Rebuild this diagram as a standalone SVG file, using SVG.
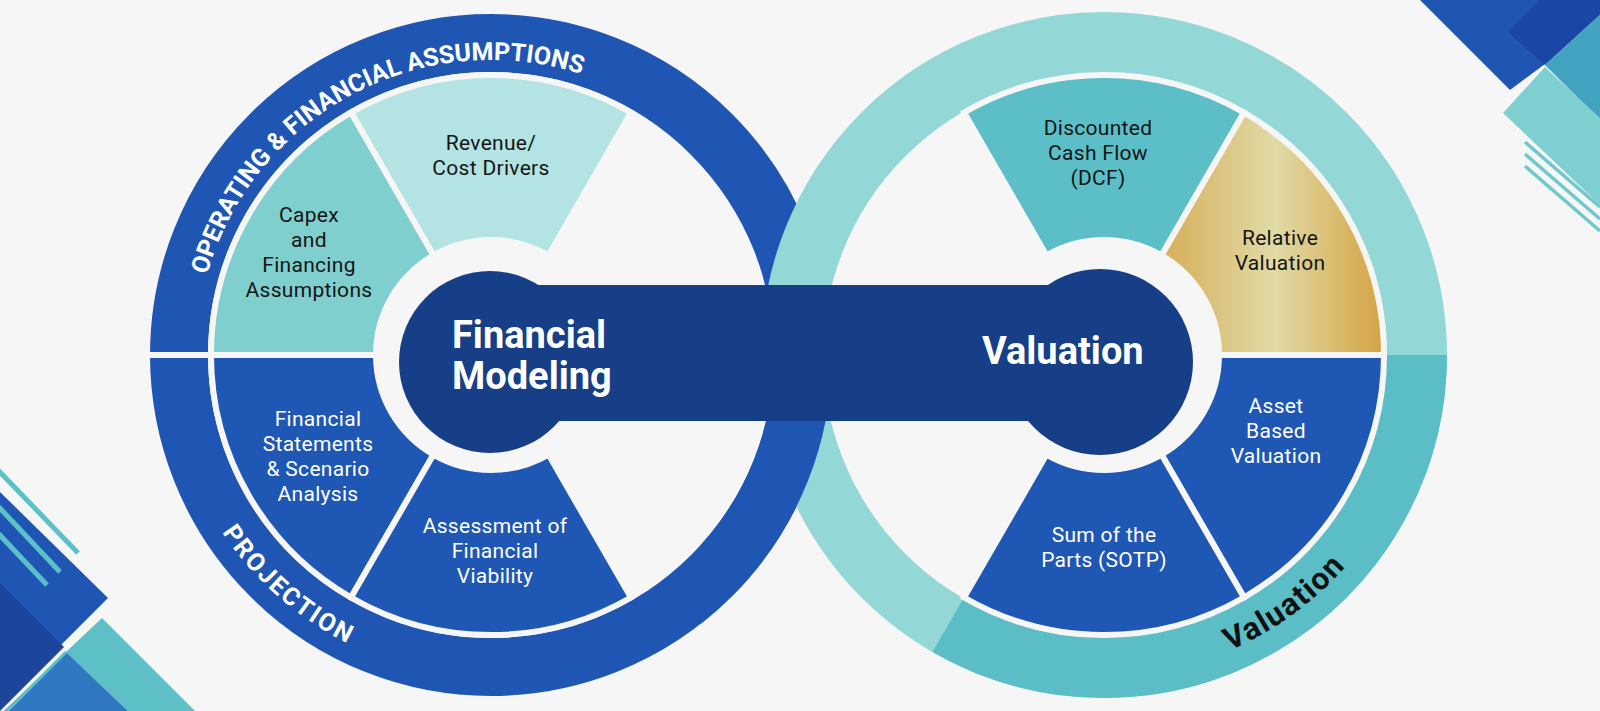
<svg xmlns="http://www.w3.org/2000/svg" width="1600" height="711" viewBox="0 0 1600 711">
<defs>
<style>
.seg-d{font-family:Roboto,"Liberation Sans",sans-serif;font-size:21px;letter-spacing:0.3px;fill:#151515;text-anchor:middle}
.seg-l{font-family:Roboto,"Liberation Sans",sans-serif;font-size:21px;letter-spacing:0.3px;fill:#ffffff;text-anchor:middle}
.seg{stroke:#f6f6f6;stroke-width:6;stroke-linejoin:miter}
.arc-lbl{font-family:Roboto,"Liberation Sans",sans-serif;font-size:25px;font-weight:700;fill:#ffffff}
.hub{fill:#163f87}
.hub-t{font-family:Roboto,"Liberation Sans",sans-serif;font-size:38px;font-weight:700;fill:#ffffff}
.deco-line{stroke:#5cc0c8;stroke-width:5;stroke-linecap:butt}
.deco-thin{stroke:#6fc8ca;stroke-width:3.5;stroke-linecap:butt}
</style>
<linearGradient id="gold" gradientUnits="userSpaceOnUse" x1="1140" y1="0" x2="1385" y2="0">
<stop offset="0" stop-color="#d4a54a"/><stop offset="0.55" stop-color="#e0dba6"/><stop offset="1" stop-color="#d5a241"/>
</linearGradient>
<clipPath id="lowerCross"><rect x="700" y="355" width="220" height="356"/></clipPath>
<path id="p-oper" d="M196,355 A295,295 0 0 1 638.5,99.5"/>
<path id="p-proj" d="M173.9,410.9 A322,322 0 0 0 491,677"/>
<path id="p-val" d="M1104,676 A321,321 0 0 0 1405.6,464.8"/>
</defs>

<rect x="0" y="0" width="1600" height="711" fill="#f6f6f6"/>

<g id="decor-bottom-left">
<line class="deco-line" x1="-4" y1="468" x2="78" y2="553"/>
<polygon points="0,492 108,598 0,706" fill="#1f56b3"/>
<polygon points="0,583 64,647 0,711" fill="#1b469c"/>
<line class="deco-line" x1="-4" y1="504" x2="60" y2="572"/>
<line class="deco-line" x1="-4" y1="531" x2="47" y2="585"/>
<polygon points="102,618 195,711 128,711 66,652" fill="#5cc0c6"/>
<polygon points="66,652 128,711 4,711" fill="#3079c2"/>
<line x1="66" y1="652" x2="4" y2="714" stroke="#5cc0c8" stroke-width="3"/>
</g>

<g id="decor-top-right">
<polygon points="1420,0 1565,0 1545,64 1510,90" fill="#1f56b3"/>
<polygon points="1508,32 1545,65 1600,15 1600,0 1540,0" fill="#1a47a6"/>
<polygon points="1545,65 1600,15 1600,120" fill="#42a3c0"/>
<polygon points="1503,113 1545,67 1600,118 1600,205" fill="#7ecfcf"/>
<line class="deco-thin" x1="1525" y1="142" x2="1600" y2="207"/>
<line class="deco-thin" x1="1525" y1="154" x2="1600" y2="219"/>
<line class="deco-thin" x1="1525" y1="166" x2="1600" y2="231"/>
</g>

<g id="ring-left-band">
<circle cx="491" cy="355" r="312" fill="none" stroke="#1f56b4" stroke-width="58"/>
<line x1="145" y1="355" x2="216" y2="355" stroke="#f6f6f6" stroke-width="6"/>
</g>

<g id="ring-right-band">
<circle cx="1104" cy="355" r="312" fill="none" stroke="#93d7d7" stroke-width="62"/>
<path d="M948,625.2 A312,312 0 0 0 1416,355" fill="none" stroke="#5bbec6" stroke-width="62"/>
</g>

<g id="ring-left-band-over" clip-path="url(#lowerCross)">
<circle cx="491" cy="355" r="312" fill="none" stroke="#1f56b4" stroke-width="58"/>
</g>

<g id="label-operating">
<text class="arc-lbl"><textPath href="#p-oper" startOffset="51.5%" text-anchor="middle">OPERATING &amp; FINANCIAL ASSUMPTIONS</textPath></text>
</g>
<g id="label-projection">
<text class="arc-lbl" letter-spacing="2"><textPath href="#p-proj" startOffset="48.25%" text-anchor="middle">PROJECTION</textPath></text>
</g>
<g id="label-valuation-ring">
<text font-family="Roboto, 'Liberation Sans', sans-serif" font-size="31" font-weight="700" fill="#111" letter-spacing="1.5"><textPath href="#p-val" startOffset="51.4%" text-anchor="middle">Valuation</textPath></text>
</g>

<g id="node-revenue">
<path class="seg" fill="#b3e3e2" d="M631,112.5 A280,280 0 0 0 351,112.5 L433.5,255.4 A115,115 0 0 1 548.5,255.4 Z"/>
<text class="seg-d" x="491" y="150">Revenue/</text>
<text class="seg-d" x="491" y="175">Cost Drivers</text>
</g>
<g id="node-capex">
<path class="seg" fill="#80cfcf" d="M351,112.5 A280,280 0 0 0 211,355 L376,355 A115,115 0 0 1 433.5,255.4 Z"/>
<text class="seg-d" x="309" y="222">Capex</text>
<text class="seg-d" x="309" y="247">and</text>
<text class="seg-d" x="309" y="272">Financing</text>
<text class="seg-d" x="309" y="297">Assumptions</text>
</g>
<g id="node-fin-statements">
<path class="seg" fill="#1f57b5" d="M211,355 A280,280 0 0 0 351,597.5 L433.5,454.6 A115,115 0 0 1 376,355 Z"/>
<text class="seg-l" x="318" y="426">Financial</text>
<text class="seg-l" x="318" y="451">Statements</text>
<text class="seg-l" x="318" y="476">&amp; Scenario</text>
<text class="seg-l" x="318" y="501">Analysis</text>
</g>
<g id="node-assessment">
<path class="seg" fill="#1f57b5" d="M351,597.5 A280,280 0 0 0 631,597.5 L548.5,454.6 A115,115 0 0 1 433.5,454.6 Z"/>
<text class="seg-l" x="495" y="533">Assessment of</text>
<text class="seg-l" x="495" y="558">Financial</text>
<text class="seg-l" x="495" y="583">Viability</text>
</g>

<g id="node-dcf">
<path class="seg" fill="#5cbfc8" d="M1244,112.5 A280,280 0 0 0 964,112.5 L1046.5,255.4 A115,115 0 0 1 1161.5,255.4 Z"/>
<text class="seg-d" x="1098" y="135">Discounted</text>
<text class="seg-d" x="1098" y="160">Cash Flow</text>
<text class="seg-d" x="1098" y="185">(DCF)</text>
</g>
<g id="node-relative">
<path class="seg" fill="url(#gold)" d="M1384,355 A280,280 0 0 0 1244,112.5 L1161.5,255.4 A115,115 0 0 1 1219,355 Z"/>
<text class="seg-d" x="1280" y="245">Relative</text>
<text class="seg-d" x="1280" y="270">Valuation</text>
</g>
<g id="node-asset">
<path class="seg" fill="#1f57b5" d="M1244,597.5 A280,280 0 0 0 1384,355 L1219,355 A115,115 0 0 1 1161.5,454.6 Z"/>
<text class="seg-l" x="1276" y="413">Asset</text>
<text class="seg-l" x="1276" y="438">Based</text>
<text class="seg-l" x="1276" y="463">Valuation</text>
</g>
<g id="node-sotp">
<path class="seg" fill="#1f57b5" d="M964,597.5 A280,280 0 0 0 1244,597.5 L1161.5,454.6 A115,115 0 0 1 1046.5,454.6 Z"/>
<text class="seg-l" x="1104" y="542">Sum of the</text>
<text class="seg-l" x="1104" y="567">Parts (SOTP)</text>
</g>

<g id="connectors">
<rect class="hub" x="490" y="285" width="610" height="136"/>
</g>

<g id="node-financial-modeling">
<circle class="hub" cx="490" cy="362" r="91"/>
<text class="hub-t" x="452" y="348">Financial</text>
<text class="hub-t" x="452" y="389">Modeling</text>
</g>
<g id="node-valuation">
<circle class="hub" cx="1100" cy="362" r="93"/>
<text class="hub-t" x="982" y="364">Valuation</text>
</g>
</svg>
